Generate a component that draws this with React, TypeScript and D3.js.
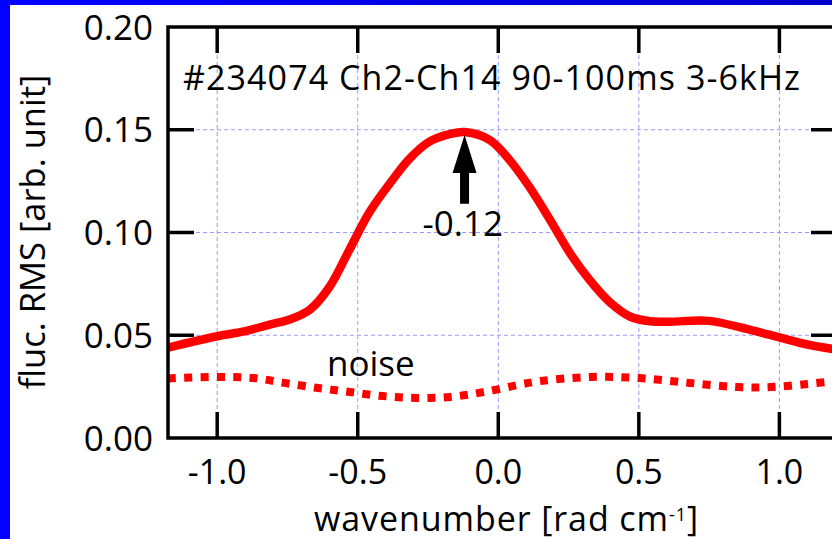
import { useEffect, useRef } from 'react'
import * as d3 from 'd3'

// solid curve: fluctuation RMS vs wavenumber
const signalK = [-1.175, -1.0, -0.9, -0.81, -0.74, -0.67, -0.6, -0.53, -0.46, -0.385, -0.315, -0.245, -0.17, -0.12, -0.03, 0.04, 0.11, 0.185, 0.255, 0.325, 0.4, 0.47, 0.54, 0.61, 0.75, 0.9, 1.0, 1.1, 1.205]
const signalV = [0.044, 0.0495, 0.052, 0.0553, 0.0578, 0.0625, 0.0736, 0.0915, 0.1095, 0.124, 0.136, 0.1442, 0.148, 0.1489, 0.145, 0.1353, 0.1223, 0.106, 0.09, 0.0769, 0.0657, 0.059, 0.0568, 0.0566, 0.057, 0.0525, 0.049, 0.0455, 0.043]

// dotted curve: noise level
const noiseK = [-1.175, -1.0, -0.87, -0.76, -0.64, -0.53, -0.41, -0.29, -0.17, -0.05, 0.07, 0.15, 0.33, 0.5, 0.68, 0.85, 0.97, 1.1, 1.205]
const noiseV = [0.029, 0.0297, 0.0292, 0.0268, 0.0243, 0.0224, 0.0204, 0.0195, 0.02, 0.0224, 0.0258, 0.0277, 0.0297, 0.0292, 0.0268, 0.0248, 0.0248, 0.0263, 0.0278]

const xTicks = [-1.0, -0.5, 0.0, 0.5, 1.0]
const yTicks = [0.0, 0.05, 0.1, 0.15, 0.2]
const xDomain = [-1.175, 1.205]
const yDomain = [0, 0.2]

const peakK = -0.12
const arrowFrom = 0.114
const arrowTo = 0.1475

const TITLE = '#234074 Ch2-Ch14 90-100ms 3-6kHz'
const FONT = "'Open Sans', sans-serif"

// hyphen instead of unicode minus, as in the original
const fmt = (spec: string) => (v: number) => d3.format(spec)(v).replace('\u2212', '-')

export default function App() {
  const svgRef = useRef<SVGSVGElement>(null)

  useEffect(() => {
    const W = 832, H = 539
    const svg = d3.select(svgRef.current)
    svg.selectAll('*').remove()

    const left = 168, right = 837, top = 27, bottom = 438
    const x = d3.scaleLinear().domain(xDomain).range([left, right])
    const y = d3.scaleLinear().domain(yDomain).range([bottom, top])

    svg.append('rect').attr('width', W).attr('height', H).attr('fill', '#fff')

    // blue frame
    const defs = svg.append('defs')
    const grad = defs.append('linearGradient').attr('id', 'topg')
    grad.append('stop').attr('offset', '0%').attr('stop-color', '#0000ff')
    grad.append('stop').attr('offset', '100%').attr('stop-color', '#0000cc')
    svg.append('rect').attr('x', 0).attr('y', 0).attr('width', W).attr('height', 5).attr('fill', 'url(#topg)')
    svg.append('rect').attr('x', 0).attr('y', 0).attr('width', 10).attr('height', H).attr('fill', '#0000ff')

    defs.append('clipPath').attr('id', 'plot')
      .append('rect').attr('x', left).attr('y', top).attr('width', right - left).attr('height', bottom - top)

    // grid
    const grid = svg.append('g').attr('stroke', '#9999ff').attr('stroke-width', 1).attr('stroke-dasharray', '4,3')
    xTicks.forEach(t => {
      grid.append('line').attr('x1', x(t)).attr('x2', x(t)).attr('y1', top).attr('y2', bottom)
    })
    yTicks.slice(1, -1).forEach(t => {
      grid.append('line').attr('x1', left).attr('x2', right).attr('y1', y(t)).attr('y2', y(t))
    })

    // curves
    const line = d3.line<number>()
      .x(d => x(d))
      .curve(d3.curveCatmullRom.alpha(0.5))
    const plot = svg.append('g').attr('clip-path', 'url(#plot)')
    plot.append('path')
      .attr('d', line.y((_, i) => y(noiseV[i]))(noiseK))
      .attr('fill', 'none').attr('stroke', '#ff0000').attr('stroke-width', 8)
      .attr('stroke-dasharray', '8,8.3')
    plot.append('path')
      .attr('d', line.y((_, i) => y(signalV[i]))(signalK))
      .attr('fill', 'none').attr('stroke', '#ff0000').attr('stroke-width', 8.5)
      .attr('stroke-linejoin', 'round')

    // frame + ticks
    const ax = svg.append('g').attr('stroke', '#000').attr('stroke-width', 3.5)
    ax.append('rect').attr('x', left).attr('y', top).attr('width', right - left).attr('height', bottom - top).attr('fill', 'none')
    const tl = 26
    xTicks.forEach(t => {
      ax.append('line').attr('x1', x(t)).attr('x2', x(t)).attr('y1', bottom).attr('y2', bottom - tl)
      ax.append('line').attr('x1', x(t)).attr('x2', x(t)).attr('y1', top).attr('y2', top + tl)
    })
    yTicks.slice(1, -1).forEach(t => {
      ax.append('line').attr('x1', left).attr('x2', left + tl).attr('y1', y(t)).attr('y2', y(t))
      ax.append('line').attr('x1', right).attr('x2', right - tl).attr('y1', y(t)).attr('y2', y(t))
    })

    const fs = 34
    const txt = svg.append('g').attr('font-family', FONT).attr('font-size', fs).attr('fill', '#000')
    yTicks.forEach(t => {
      txt.append('text').attr('x', left - 15).attr('y', y(t) + 12.5).attr('text-anchor', 'end')
        .attr('font-size', 35).text(fmt('.2f')(t))
    })
    xTicks.forEach(t => {
      txt.append('text').attr('x', x(t)).attr('y', 483.5).attr('text-anchor', 'middle').text(fmt('.1f')(t))
    })

    txt.append('text').attr('x', 183).attr('y', 90).attr('textLength', 617).text(TITLE)
    txt.append('text').attr('x', 327).attr('y', 376).attr('font-size', 35).text('noise')
    txt.append('text').attr('x', x(peakK) - 42).attr('y', 236).attr('font-size', 35).text(fmt('.2f')(peakK))

    const xl = txt.append('text').attr('x', 314).attr('y', 530.5).attr('textLength', 384)
    xl.append('tspan').text('wavenumber [rad cm')
    xl.append('tspan').attr('font-size', 18).attr('dy', -10).text('-1')
    xl.append('tspan').attr('dy', 10).text(']')

    txt.append('text')
      .attr('transform', `translate(45,232) rotate(-90)`)
      .attr('text-anchor', 'middle')
      .attr('font-size', 34.5)
      .text('fluc. RMS [arb. unit]')

    // arrow at peak
    const ak = x(peakK), ab = y(arrowFrom), at = y(arrowTo)
    const hw = 12, sw = 4.5, hh = 38
    svg.append('path')
      .attr('d', `M${ak},${at} L${ak + hw},${at + hh} L${ak + sw},${at + hh} L${ak + sw},${ab} L${ak - sw},${ab} L${ak - sw},${at + hh} L${ak - hw},${at + hh} Z`)
      .attr('fill', '#000')
  }, [])

  return (
    <svg ref={svgRef} width={832} height={539}
      style={{ position: 'fixed', left: 0, top: 0, display: 'block' }} />
  )
}
